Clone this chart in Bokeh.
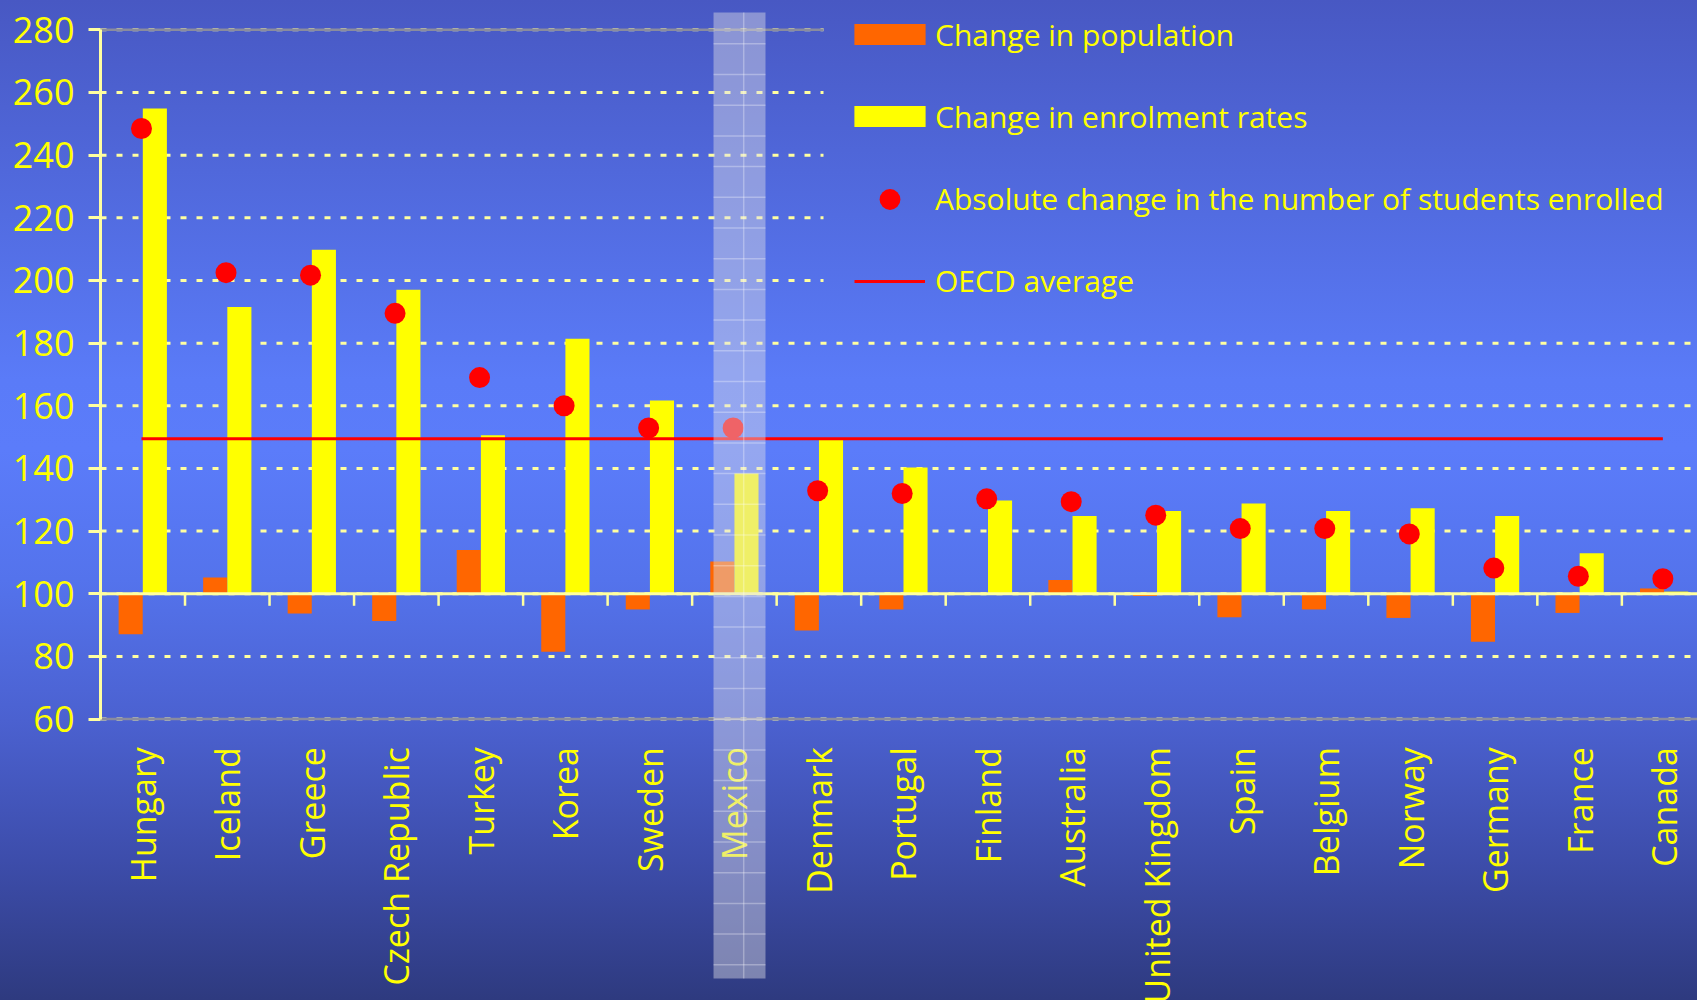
import numpy as np
from bokeh.plotting import figure
from bokeh.models import Range1d, FixedTicker, Legend, LegendItem, ColumnDataSource
from bokeh.core.properties import value
from bokeh.embed import file_html
from bokeh.resources import INLINE

# Index of change 1995-2004 (1995 = 100)
countries = ["Hungary", "Iceland", "Greece", "Czech Republic", "Turkey", "Korea",
             "Sweden", "Mexico", "Denmark", "Portugal", "Finland", "Australia",
             "United Kingdom", "Spain", "Belgium", "Norway", "Germany", "France", "Canada"]
population = [87.1, 105.2, 93.7, 91.3, 114.0, 81.5, 95.0, 110.3, 88.3, 95.0,
              99.8, 104.4, 99.3, 92.5, 95.0, 92.3, 84.7, 93.9, 101.7]
enrolment = [254.9, 191.5, 209.8, 197.0, 150.6, 181.4, 161.7, 138.4, 149.5, 140.3,
             129.8, 124.8, 126.4, 128.8, 126.4, 127.3, 124.8, 112.9, 100.7]
students = [248.5, 202.5, 201.7, 189.5, 169.0, 160.0, 152.9, 152.9, 132.9, 132.0,
            130.3, 129.4, 125.1, 120.8, 120.8, 119.1, 108.2, 105.6, 104.8]
oecd_average = 149.5
y_ticks = list(range(60, 281, 20))
highlight = "Mexico"

# canvas geometry
W, H = 1697, 1000
LEFT = 100            # width of the y-axis panel
CAT_PX = 84.52        # pixels per country slot
PX_PER_UNIT = 3.1333  # pixels per index point
Y_TOP = 289.35
Y_BOT = Y_TOP - H / PX_PER_UNIT
X_END = (W - LEFT) / CAT_PX


def y_at(px):
    return Y_TOP - px / PX_PER_UNIT


def x_at(px):
    return (px - LEFT) / CAT_PX


PALE = "#ffffa0"
YELLOW = "#ffff00"
ORANGE = "#ff6600"
RED = "#ff0000"
FONT = "Open Sans"

p = figure(width=W, height=H, output_backend="svg", toolbar_location=None,
           x_axis_type=None, x_range=Range1d(0, X_END), y_range=Range1d(Y_BOT, Y_TOP),
           min_border_left=LEFT, min_border_right=0, min_border_top=0, min_border_bottom=0)
p.styles = {"background": "linear-gradient(to bottom, #4858c3 0%, #4f66d8 15%, #5a7bf8 38%, "
                          "#5b7cfa 45%, #5473ec 58%, #4b61d0 72%, #3d4dab 86%, #2e3a7f 100%)"}
p.background_fill_color = None
p.border_fill_color = None
p.outline_line_color = None
p.xgrid.visible = False
p.ygrid.visible = False

ax = p.yaxis[0]
ax.ticker = FixedTicker(ticks=y_ticks)
ax.bounds = (min(y_ticks), max(y_ticks))
ax.axis_line_color = PALE
ax.axis_line_width = 3
ax.major_tick_line_color = PALE
ax.major_tick_line_width = 3
ax.major_tick_out = 12
ax.major_tick_in = 0
ax.minor_tick_line_color = None
ax.major_label_standoff = 14
ax.major_label_text_color = YELLOW
ax.major_label_text_font = FONT
ax.major_label_text_font_size = "36px"

# dotted gridlines; the upper ones stop where the legend box begins
legend_left = x_at(823)
grid_end = [legend_left if t >= 200 else X_END for t in y_ticks]
p.segment(x0=[0] * len(y_ticks), y0=y_ticks, x1=grid_end, y1=y_ticks,
          line_color=PALE, line_width=3, line_dash="6 10")

# plot-area border, top and bottom
p.segment(x0=[0, 0], y0=[max(y_ticks), min(y_ticks)], x1=[legend_left, X_END],
          y1=[max(y_ticks), min(y_ticks)], line_color="#8a8c9e", line_width=2.5)

idx = np.arange(len(countries))
src = ColumnDataSource(dict(
    x_pop=idx + 0.357, x_enr=idx + 0.643, x_dot=idx + 0.485,
    population=population, enrolment=enrolment, students=students))

r_pop = p.vbar(x="x_pop", width=0.285, bottom=100, top="population", source=src,
               fill_color=ORANGE, line_color=None)
r_enr = p.vbar(x="x_enr", width=0.285, bottom=100, top="enrolment", source=src,
               fill_color=YELLOW, line_color=None)

# horizontal category axis crossing at 100
p.segment(x0=[0], y0=[100], x1=[X_END], y1=[100], line_color=PALE, line_width=3)
bounds = idx[1:]
p.segment(x0=bounds, y0=[100] * len(bounds), x1=bounds,
          y1=[100 - 12 / PX_PER_UNIT] * len(bounds), line_color=PALE, line_width=2.5)

r_oecd = p.line(x=[idx[0] + 0.485, idx[-1] + 0.485], y=[oecd_average, oecd_average],
                line_color=RED, line_width=3)
r_dot = p.scatter(x="x_dot", y="students", source=src, size=21,
                  fill_color=RED, line_color=None)

# rotated country names under the plot area
p.text(x=idx + 0.5, y=[min(y_ticks) - 28 / PX_PER_UNIT] * len(countries), text=countries,
       angle=np.pi / 2, text_align="right", text_baseline="middle",
       text_font=value(FONT), text_font_size="34px", text_color=YELLOW)

# translucent highlight column over Mexico
k = countries.index(highlight)
band_top, band_bot = y_at(12), y_at(978)
p.quad(left=[k + 0.253], right=[k + 0.868], top=[band_top], bottom=[band_bot],
       fill_color="#dcdce4", fill_alpha=0.45, line_color=None)
p.segment(x0=[k + 0.61], y0=[band_top], x1=[k + 0.61], y1=[band_bot],
          line_color="white", line_alpha=0.3, line_width=1.5)
rows = y_at(np.arange(43.3, 978, 30.7))
p.segment(x0=[k + 0.253] * len(rows), y0=rows, x1=[k + 0.868] * len(rows), y1=rows,
          line_color="white", line_alpha=0.3, line_width=1.5)

legend_style = dict(label_text_font=FONT, label_text_font_size="30px",
                    label_text_color=YELLOW, background_fill_alpha=0,
                    border_line_alpha=0, padding=0, margin=0)
PITCH = 82.3
ROW_A, ROW_B = 44, 52
leg_a = Legend(items=[LegendItem(label="Change in population", renderers=[r_pop]),
                      LegendItem(label="Change in enrolment rates", renderers=[r_enr])],
               glyph_width=89, glyph_height=26, label_height=ROW_A, label_standoff=1,
               spacing=round(PITCH - ROW_A),
               location=(745, H - (34 - ROW_A / 2) - (ROW_A + PITCH)), **legend_style)
leg_b = Legend(items=[LegendItem(label="Absolute change in the number of students enrolled",
                                 renderers=[r_dot]),
                      LegendItem(label="OECD average", renderers=[r_oecd])],
               glyph_width=71, glyph_height=ROW_B, label_height=ROW_B, label_standoff=10,
               spacing=round(PITCH - ROW_B),
               location=(754, H - (198.5 - ROW_B / 2) - (ROW_B + PITCH)), **legend_style)
p.add_layout(leg_a)
p.add_layout(leg_b)

open("out.html", "w").write(file_html(p, INLINE))
